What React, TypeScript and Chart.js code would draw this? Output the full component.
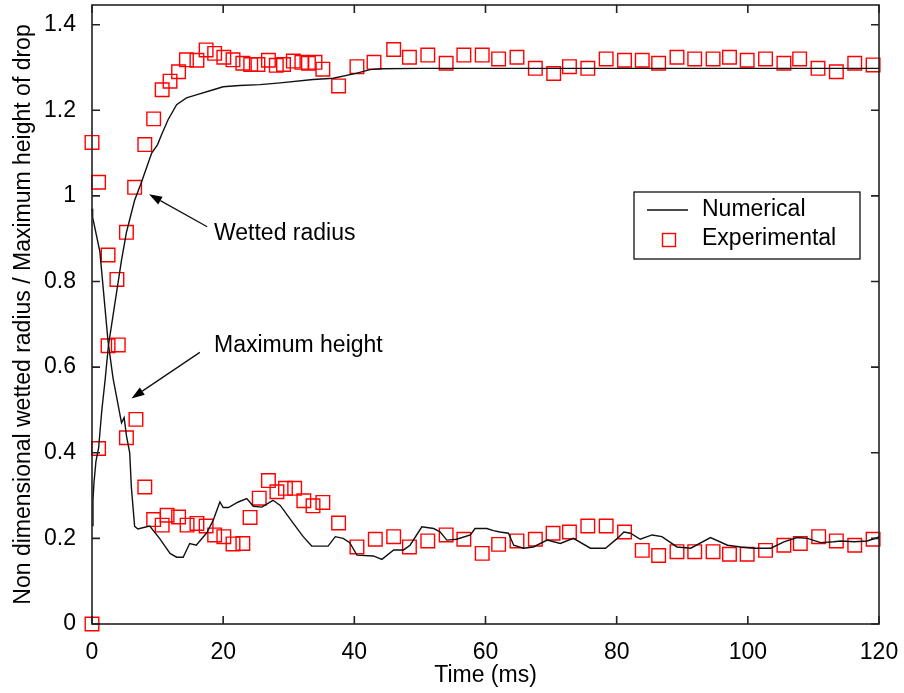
import React, { useEffect, useRef } from 'react';
import { Chart, registerables } from 'chart.js';

Chart.register(...registerables);

const FONT = '"Liberation Sans", Arial, Helvetica, sans-serif';

// Axis settings
const xMin = 0;
const xMax = 120;
const xStep = 20;
const yMin = 0;
const yMax = 1.446;
const yStep = 0.2;

const xTitle = 'Time (ms)';
const yTitle = 'Non dimensional wetted radius / Maximum height of drop';
const legendLabels = ['Numerical', 'Experimental'];
const annotationLabels = ['Wetted radius', 'Maximum height'];

// Numerical – wetted radius
const radiusNumTime = [0, 0.15, 0.3, 0.6, 1.0, 1.5, 2.0, 2.5, 3.0, 3.5, 4.0, 4.5, 5.25, 6.0, 6.5, 7.5, 8.3, 9.1, 10.0, 10.6, 11.6, 12.9, 14.4, 15.9, 18.5, 20, 22.5, 25.6, 28.7, 33.7, 36.8, 40.4, 42.4, 44, 50, 60, 80, 100, 120];
const radiusNumValue = [0.23, 0.29, 0.33, 0.38, 0.41, 0.5, 0.57, 0.65, 0.7, 0.75, 0.8, 0.85, 0.915, 0.96, 0.99, 1.03, 1.065, 1.1, 1.12, 1.143, 1.178, 1.213, 1.229, 1.236, 1.248, 1.255, 1.258, 1.26, 1.264, 1.272, 1.275, 1.287, 1.295, 1.297, 1.298, 1.298, 1.298, 1.298, 1.298];

// Numerical – maximum height
const heightNumTime = [0, 0.1, 1.2, 2.45, 3.2, 4.5, 4.9, 5.25, 5.75, 6.0, 6.5, 7.0, 8.8, 10.3, 11.9, 12.9, 13.9, 14.9, 15.9, 17.5, 18.5, 19.5, 20.0, 20.8, 22.3, 23.6, 24.6, 25.9, 27.6, 28.7, 30.7, 32.2, 33.5, 36.0, 37.1, 38.3, 39.3, 40.4, 42.9, 44.2, 46, 47.5, 48.5, 50.3, 52.1, 53.1, 54.1, 55.6, 57.7, 58.4, 60.2, 61.2, 62.2, 63.5, 64.3, 65.8, 67.3, 69.4, 71.4, 73.4, 76, 78.3, 80.1, 81.1, 82.1, 83.6, 85.4, 86.9, 89.2, 91.3, 94.3, 96.9, 98.9, 100.9, 103.5, 105.5, 107.5, 109.1, 111.1, 113.1, 114.2, 116.2, 118.2, 119.8, 120];
const heightNumValue = [0.97, 0.95, 0.87, 0.66, 0.575, 0.47, 0.482, 0.44, 0.4, 0.32, 0.228, 0.222, 0.229, 0.2, 0.165, 0.156, 0.156, 0.188, 0.184, 0.213, 0.243, 0.285, 0.272, 0.272, 0.285, 0.293, 0.275, 0.273, 0.289, 0.277, 0.235, 0.204, 0.182, 0.182, 0.204, 0.2, 0.19, 0.161, 0.159, 0.151, 0.173, 0.173, 0.184, 0.227, 0.223, 0.215, 0.196, 0.198, 0.208, 0.223, 0.223, 0.218, 0.215, 0.212, 0.184, 0.177, 0.18, 0.196, 0.188, 0.2, 0.177, 0.177, 0.2, 0.215, 0.212, 0.198, 0.208, 0.204, 0.18, 0.177, 0.202, 0.184, 0.18, 0.177, 0.177, 0.192, 0.202, 0.2, 0.19, 0.192, 0.194, 0.192, 0.194, 0.202, 0.205];

// Experimental – wetted radius
const radiusExpTime = [0, 1.0, 2.45, 3.8, 5.25, 6.5, 8.05, 9.4, 10.7, 11.9, 13.2, 14.4, 16.0, 17.4, 18.7, 20.1, 21.5, 23.0, 24.2, 25.3, 26.9, 28.1, 29.2, 30.7, 32.0, 33.0, 34.0, 35.2, 37.6, 40.4, 43.0, 46.0, 48.4, 51.2, 54.0, 56.7, 59.5, 62.0, 64.8, 67.6, 70.4, 72.8, 75.6, 78.4, 81.2, 83.9, 86.4, 89.2, 91.9, 94.7, 97.2, 99.9, 102.7, 105.5, 107.9, 110.7, 113.5, 116.3, 119.1];
const radiusExpValue = [0, 0.41, 0.65, 0.805, 0.915, 1.02, 1.12, 1.18, 1.248, 1.268, 1.29, 1.318, 1.317, 1.341, 1.333, 1.324, 1.318, 1.31, 1.307, 1.307, 1.317, 1.305, 1.307, 1.315, 1.312, 1.31, 1.312, 1.296, 1.257, 1.302, 1.312, 1.342, 1.324, 1.329, 1.31, 1.329, 1.329, 1.32, 1.324, 1.298, 1.286, 1.302, 1.298, 1.32, 1.317, 1.317, 1.31, 1.324, 1.32, 1.32, 1.324, 1.317, 1.32, 1.31, 1.32, 1.298, 1.29, 1.31, 1.306];

// Experimental – maximum height
const heightExpTime = [0, 1.0, 2.45, 4.0, 5.25, 6.7, 8.05, 9.4, 10.7, 11.45, 13.2, 14.5, 16.0, 17.4, 18.7, 20.1, 21.5, 23.0, 24.1, 25.5, 26.9, 28.2, 29.5, 30.9, 32.3, 33.7, 35.2, 37.6, 40.4, 43.2, 46.0, 48.4, 51.2, 54.0, 56.7, 59.5, 62.0, 64.8, 67.6, 70.3, 72.8, 75.6, 78.4, 81.2, 83.9, 86.4, 89.2, 91.9, 94.7, 97.2, 99.9, 102.7, 105.5, 108.0, 110.8, 113.5, 116.3, 119.1];
const heightExpValue = [1.125, 1.032, 0.862, 0.652, 0.435, 0.478, 0.32, 0.244, 0.231, 0.254, 0.25, 0.231, 0.235, 0.229, 0.208, 0.204, 0.187, 0.188, 0.249, 0.294, 0.335, 0.309, 0.317, 0.317, 0.288, 0.276, 0.284, 0.236, 0.18, 0.198, 0.204, 0.18, 0.194, 0.208, 0.198, 0.165, 0.186, 0.194, 0.198, 0.212, 0.215, 0.229, 0.229, 0.215, 0.172, 0.16, 0.169, 0.169, 0.169, 0.163, 0.163, 0.172, 0.184, 0.188, 0.204, 0.194, 0.184, 0.198];

// Annotation anchor points (data coordinates): text position, arrow tail, arrow tip
const wettedText = { x: 18.6, y: 0.913 };
const wettedArrow = { fromX: 17.56, fromY: 0.928, toX: 8.7, toY: 1.004 };
const heightText = { x: 18.6, y: 0.65 };
const heightArrow = { fromX: 16.44, fromY: 0.6345, toX: 6.02, toY: 0.527 };

const toPoints = (xs: number[], ys: number[]) => xs.map((x, i) => ({ x, y: ys[i] }));

const LINE_COLOR = '#111111';
const MARK_COLOR = '#ff0000';

function drawArrow(ctx: CanvasRenderingContext2D, x1: number, y1: number, x2: number, y2: number) {
  const ang = Math.atan2(y2 - y1, x2 - x1);
  const head = 13;
  const half = 4.5;
  const bx = x2 - head * Math.cos(ang);
  const by = y2 - head * Math.sin(ang);
  ctx.beginPath();
  ctx.moveTo(x1, y1);
  ctx.lineTo(bx, by);
  ctx.stroke();
  ctx.beginPath();
  ctx.moveTo(x2, y2);
  ctx.lineTo(bx + half * Math.sin(ang), by - half * Math.cos(ang));
  ctx.lineTo(bx - half * Math.sin(ang), by + half * Math.cos(ang));
  ctx.closePath();
  ctx.fill();
}

const decorPlugin = {
  id: 'decor',
  afterDatasetsDraw(chart: any) {
    const { ctx, chartArea: a, scales } = chart;
    const xs = scales.x;
    const ys = scales.y;
    ctx.save();
    // frame
    ctx.strokeStyle = '#222';
    ctx.lineWidth = 1.6;
    ctx.strokeRect(a.left, a.top, a.right - a.left, a.bottom - a.top);
    // inward ticks on all sides
    const tl = 8;
    ctx.beginPath();
    xs.ticks.forEach((t: any) => {
      const px = xs.getPixelForValue(t.value);
      ctx.moveTo(px, a.bottom);
      ctx.lineTo(px, a.bottom - tl);
      ctx.moveTo(px, a.top);
      ctx.lineTo(px, a.top + tl);
    });
    ys.ticks.forEach((t: any) => {
      const py = ys.getPixelForValue(t.value);
      ctx.moveTo(a.left, py);
      ctx.lineTo(a.left + tl, py);
      ctx.moveTo(a.right, py);
      ctx.lineTo(a.right - tl, py);
    });
    ctx.stroke();

    // annotations
    ctx.fillStyle = '#000';
    ctx.strokeStyle = '#111';
    ctx.lineWidth = 1.3;
    ctx.font = `23px ${FONT}`;
    ctx.textAlign = 'left';
    ctx.textBaseline = 'middle';
    ctx.fillText(annotationLabels[0], xs.getPixelForValue(wettedText.x), ys.getPixelForValue(wettedText.y));
    ctx.fillText(annotationLabels[1], xs.getPixelForValue(heightText.x), ys.getPixelForValue(heightText.y));
    drawArrow(ctx, xs.getPixelForValue(wettedArrow.fromX), ys.getPixelForValue(wettedArrow.fromY), xs.getPixelForValue(wettedArrow.toX), ys.getPixelForValue(wettedArrow.toY));
    drawArrow(ctx, xs.getPixelForValue(heightArrow.fromX), ys.getPixelForValue(heightArrow.fromY), xs.getPixelForValue(heightArrow.toX), ys.getPixelForValue(heightArrow.toY));

    // legend
    const bw = 226;
    const bh = 67;
    const bx = a.right - 19 - bw;
    const by = a.top + 187;
    ctx.fillStyle = '#fff';
    ctx.fillRect(bx, by, bw, bh);
    ctx.strokeStyle = '#111';
    ctx.lineWidth = 1.3;
    ctx.strokeRect(bx, by, bw, bh);
    // line sample
    ctx.strokeStyle = LINE_COLOR;
    ctx.lineWidth = 1.5;
    ctx.beginPath();
    ctx.moveTo(bx + 13, by + 18);
    ctx.lineTo(bx + 54, by + 18);
    ctx.stroke();
    // square sample
    ctx.strokeStyle = MARK_COLOR;
    ctx.lineWidth = 1.4;
    ctx.strokeRect(bx + 35 - 6.5, by + 48 - 6.5, 13, 13);
    ctx.fillStyle = '#000';
    ctx.fillText(legendLabels[0], bx + 68, by + 18);
    ctx.fillText(legendLabels[1], bx + 68, by + 47);
    ctx.restore();
  },
};

export default function App() {
  const ref = useRef<HTMLCanvasElement>(null);
  useEffect(() => {
    document.body.style.margin = '0';
    const canvas = ref.current;
    if (!canvas) return;
    const lineDs = (data: any[]) => ({
      data,
      showLine: true,
      borderColor: LINE_COLOR,
      borderWidth: 1.4,
      pointRadius: 0,
      pointHoverRadius: 0,
      fill: false,
      tension: 0,
      clip: false as any,
    });
    const markDs = (data: any[]) => ({
      data,
      showLine: false,
      borderColor: MARK_COLOR,
      backgroundColor: 'rgba(0,0,0,0)',
      borderWidth: 1.4,
      pointStyle: 'rect' as const,
      pointRadius: 9.6,
      pointHoverRadius: 9.6,
      clip: false as any,
    });
    const chart = new Chart(canvas, {
      type: 'scatter',
      data: {
        datasets: [
          lineDs(toPoints(radiusNumTime, radiusNumValue)),
          lineDs(toPoints(heightNumTime, heightNumValue)),
          markDs(toPoints(radiusExpTime, radiusExpValue)),
          markDs(toPoints(heightExpTime, heightExpValue)),
        ],
      },
      options: {
        responsive: false,
        animation: false,
        events: [],
        layout: { autoPadding: false, padding: { top: 5, right: 25, left: 0, bottom: 0 } },
        plugins: {
          legend: { display: false },
          tooltip: { enabled: false },
        },
        scales: {
          x: {
            type: 'linear',
            min: xMin,
            max: xMax,
            grid: { display: false },
            border: { display: false },
            ticks: {
              stepSize: xStep,
              autoSkip: false,
              maxRotation: 0,
              padding: 7,
              color: '#000',
              font: { family: FONT, size: 23 },
            },
            title: {
              display: true,
              text: xTitle,
              color: '#000',
              font: { family: FONT, size: 23 },
              padding: { top: 0, bottom: 4 },
            },
            afterFit: (s: any) => {
              s.height = 69;
              s.paddingLeft = 0;
              s.paddingRight = 0;
            },
          },
          y: {
            type: 'linear',
            min: yMin,
            max: yMax,
            grid: { display: false },
            border: { display: false },
            ticks: {
              stepSize: yStep,
              includeBounds: false,
              padding: 8,
              color: '#000',
              font: { family: FONT, size: 23 },
              callback: (v: any) => String(Math.round(Number(v) * 10) / 10),
            },
            title: {
              display: true,
              text: yTitle,
              color: '#000',
              font: { family: FONT, size: 23 },
              padding: { top: 10, bottom: 0 },
            },
            afterFit: (s: any) => {
              s.width = 92;
              s.paddingTop = 0;
              s.paddingBottom = 0;
            },
          },
        },
      },
      plugins: [decorPlugin],
    });
    return () => chart.destroy();
  }, []);
  return (
    <div style={{ width: 904, height: 693, position: 'relative', background: '#fff' }}>
      <canvas ref={ref} width={904} height={693} style={{ display: 'block' }} />
    </div>
  );
}
